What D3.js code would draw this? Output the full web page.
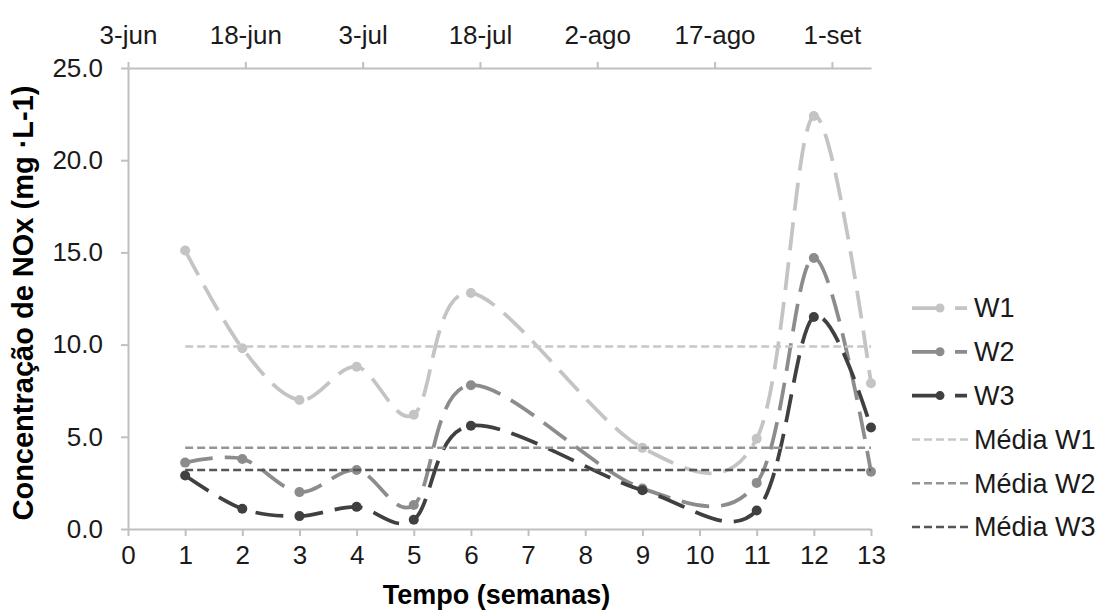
<!DOCTYPE html>
<html>
<head>
<meta charset="utf-8">
<script src="https://cdn.jsdelivr.net/npm/d3@7"></script>
<style>
  body { margin: 0; background: #fff; }
  svg { font-family: "Liberation Sans", Arial, sans-serif; }
</style>
</head>
<body>
<div id="chart"></div>
<script>
// weeks where samples were taken (no samples in weeks 7, 8, 10)
const weeks = [1, 2, 3, 4, 5, 6, 9, 11, 12, 13];
const w1 = [15.1, 9.8, 7.0, 8.8, 6.2, 12.8, 4.4, 4.9, 22.4, 7.9];
const w2 = [3.6, 3.8, 2.0, 3.2, 1.3, 7.8, 2.2, 2.5, 14.7, 3.1];
const w3 = [2.9, 1.1, 0.7, 1.2, 0.5, 5.6, 2.1, 1.0, 11.5, 5.5];
const means = [9.9, 4.4, 3.2];

const seriesNames = ["W1", "W2", "W3"];
const meanNames = ["Média W1", "Média W2", "Média W3"];
const xTicks = [0, 1, 2, 3, 4, 5, 6, 7, 8, 9, 10, 11, 12, 13];
const yTicks = [0, 5, 10, 15, 20, 25];
const dateLabels = ["3-jun", "18-jun", "3-jul", "18-jul", "2-ago", "17-ago", "1-set"];

const width = 1107, height = 616;
const margin = {top: 68, right: 236, bottom: 87, left: 128};

const lineColors = ["#c4c4c4", "#8c8c8c", "#404040"];
const meanColors = ["#c8c8c8", "#959595", "#565656"];

const x = d3.scaleLinear().domain([0, 13]).range([margin.left, width - margin.right]);
const y = d3.scaleLinear().domain([0, 25]).range([height - margin.bottom, margin.top]);

// top date axis: 3-jun .. 6-set, one tick every 15 days
const start = new Date(Date.UTC(2013, 5, 3));
const t = d3.scaleUtc()
    .domain([start, d3.utcDay.offset(start, 95)])
    .range([margin.left, width - margin.right]);
const dateTicks = dateLabels.map((d, i) => d3.utcDay.offset(start, i * 15));

const svg = d3.select("#chart").append("svg")
    .attr("width", width)
    .attr("height", height);

function styleAxis(g) {
  g.select(".domain").attr("stroke", "#c0c0c0").attr("stroke-width", 2);
  g.selectAll(".tick line").attr("stroke", "#c0c0c0").attr("stroke-width", 2);
  g.selectAll(".tick text").attr("fill", "#1a1a1a").style("font-size", "26px");
}

svg.append("g")
    .attr("transform", `translate(0,${y(0)})`)
    .call(d3.axisBottom(x).tickValues(xTicks).tickSize(7).tickSizeOuter(0).tickPadding(10))
    .call(styleAxis);

svg.append("g")
    .attr("transform", `translate(${x(0)},0)`)
    .call(d3.axisLeft(y).tickValues(yTicks).tickFormat(d3.format(".1f")).tickSize(7).tickSizeOuter(0).tickPadding(18))
    .call(styleAxis);

svg.append("g")
    .attr("transform", `translate(0,${y(25)})`)
    .call(d3.axisTop(t).tickValues(dateTicks).tickFormat((d, i) => dateLabels[i]).tickSize(6).tickSizeOuter(0).tickPadding(18))
    .call(styleAxis);

// axis titles
svg.append("text")
    .attr("x", (x(0) + x(13)) / 2 - 3)
    .attr("y", 604)
    .attr("text-anchor", "middle")
    .style("font-size", "27px")
    .style("font-weight", "bold")
    .text("Tempo (semanas)");

svg.append("text")
    .attr("transform", `translate(33,${303}) rotate(-90)`)
    .attr("text-anchor", "middle")
    .style("font-size", "29px")
    .style("font-weight", "bold")
    .text("Concentração de NOx (mg ·L-1)");

const line = d3.line()
    .x(d => x(d[0]))
    .y(d => y(d[1]))
    .curve(d3.curveCardinal.tension(0));

const series = [w1, w2, w3].map(vals => weeks.map((wk, i) => [wk, vals[i]]));

series.forEach((pts, k) => {
  svg.append("path")
      .attr("d", line(pts))
      .attr("fill", "none")
      .attr("stroke", lineColors[k])
      .attr("stroke-width", 3.75)
      .attr("stroke-dasharray", "28,12");

  svg.append("g").selectAll("circle")
    .data(pts)
    .join("circle")
      .attr("cx", d => x(d[0]))
      .attr("cy", d => y(d[1]))
      .attr("r", 5)
      .attr("fill", lineColors[k]);
});

means.forEach((m, k) => {
  svg.append("line")
      .attr("x1", x(1)).attr("x2", x(13))
      .attr("y1", y(m)).attr("y2", y(m))
      .attr("stroke", meanColors[k])
      .attr("stroke-width", 2.5)
      .attr("stroke-dasharray", "8,4");
});

// legend
const legX = 912, legY = 308, legStep = 43.8;
const leg = svg.append("g");

seriesNames.forEach((name, k) => {
  const yy = legY + k * legStep;
  leg.append("line")
      .attr("x1", legX).attr("x2", legX + 55)
      .attr("y1", yy).attr("y2", yy)
      .attr("stroke", lineColors[k])
      .attr("stroke-width", 3.75)
      .attr("stroke-dasharray", "30,13");
  leg.append("circle")
      .attr("cx", legX + 28).attr("cy", yy).attr("r", 4.5)
      .attr("fill", lineColors[k]);
  leg.append("text")
      .attr("x", legX + 62).attr("y", yy)
      .attr("dy", "0.35em")
      .attr("fill", "#1a1a1a")
      .style("font-size", "27px")
      .text(name);
});

meanNames.forEach((name, k) => {
  const yy = legY + (k + 3) * legStep;
  leg.append("line")
      .attr("x1", legX).attr("x2", legX + 56)
      .attr("y1", yy).attr("y2", yy)
      .attr("stroke", meanColors[k])
      .attr("stroke-width", 2.5)
      .attr("stroke-dasharray", "8,4");
  leg.append("text")
      .attr("x", legX + 62).attr("y", yy)
      .attr("dy", "0.35em")
      .attr("fill", "#1a1a1a")
      .style("font-size", "27px")
      .text(name);
});
</script>
</body>
</html>
